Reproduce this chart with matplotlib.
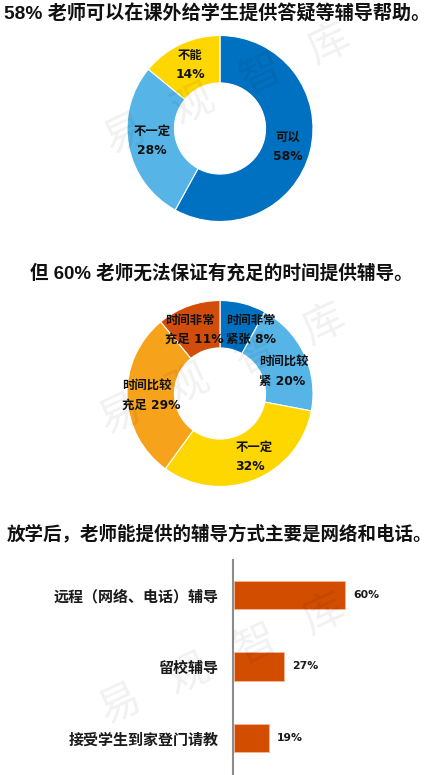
import matplotlib
matplotlib.use("Agg")
import matplotlib.pyplot as plt

plt.rcParams['font.family'] = ['Noto Sans CJK SC', 'DejaVu Sans']

# ---- data ----
title1 = "58% 老师可以在课外给学生提供答疑等辅导帮助。"
pie1_labels = ["可以\n58%", "不一定\n28%", "不能\n14%"]
pie1_values = [58, 28, 14]
pie1_colors = ["#0070C0", "#56B4E6", "#FFD700"]

title2 = "但 60% 老师无法保证有充足的时间提供辅导。"
pie2_labels = ["时间非常\n紧张 8%", "时间比较\n紧 20%", "不一定\n32%", "时间比较\n充足 29%", "时间非常\n充足 11%"]
pie2_values = [8, 20, 32, 29, 11]
pie2_colors = ["#0070C0", "#56B4E6", "#FFD700", "#F7A21B", "#D24D0C"]

title3 = "放学后，老师能提供的辅导方式主要是网络和电话。"
bar_categories = ["远程（网络、电话）辅导", "留校辅导", "接受学生到家登门请教"]
bar_values = [60, 27, 19]
bar_color = "#D24D00"

W, H = 436, 775
fig = plt.figure(figsize=(W / 100, H / 100), dpi=100)
fig.patch.set_facecolor("white")

TITLE_FAM = ['Liberation Sans', 'Noto Sans CJK SC']
LABEL_FAM = ['DejaVu Sans', 'Noto Sans CJK SC']


def px_axes(cx, cy, r):
    return fig.add_axes([(cx - r) / W, (H - cy - r) / H, 2 * r / W, 2 * r / H])


# ---- donut 1 ----
ax1 = px_axes(220, 128.5, 93)
ax1.pie(pie1_values, colors=pie1_colors, startangle=90, counterclock=False,
        radius=1, wedgeprops=dict(width=0.51, edgecolor="white", linewidth=0.8))
ax1.set_xlim(-1, 1); ax1.set_ylim(-1, 1); ax1.set_aspect("equal"); ax1.axis("off")

# ---- donut 2 ----
ax2 = px_axes(220, 393.5, 93)
ax2.pie(pie2_values, colors=pie2_colors, startangle=90, counterclock=False,
        radius=1, wedgeprops=dict(width=0.51, edgecolor="white", linewidth=0.8))
ax2.set_xlim(-1, 1); ax2.set_ylim(-1, 1); ax2.set_aspect("equal"); ax2.axis("off")

# ---- bar chart ----
axb = fig.add_axes([233 / W, 0, 185 / W, 215 / H])
ypos = list(range(len(bar_categories)))
axb.barh(ypos, bar_values, height=0.4, color=bar_color, edgecolor="#F4B89A", linewidth=0.6, left=0.5)
axb.set_xlim(0, 100)
axb.set_ylim(2.52, -0.49)
for s in ["top", "right", "bottom"]:
    axb.spines[s].set_visible(False)
axb.spines["left"].set_color("#8C8C8C")
axb.spines["left"].set_linewidth(1.5)
axb.set_xticks([])
axb.set_yticks(ypos)
axb.set_yticklabels(bar_categories, fontsize=10.8, fontweight="bold", color="#1a1a1a")
axb.tick_params(axis="y", length=0, pad=10.5)
for y, v in zip(ypos, bar_values):
    axb.text(v + 0.5 + 4.3, y, f"{v}%", va="center", ha="left", fontsize=7.8,
             fontweight="bold", family="DejaVu Sans", color="#1a1a1a")

# ---- overlay for texts ----
ov = fig.add_axes([0, 0, 1, 1], zorder=10)
ov.set_xlim(0, W); ov.set_ylim(H, 0); ov.axis("off")
ov.patch.set_alpha(0)

tk = dict(fontweight="bold", color="#111111", family=TITLE_FAM)
ov.text(217, 13, title1, ha="center", va="center", fontsize=13.8, **tk)
ov.text(221, 273, title2, ha="center", va="center", fontsize=13.4, **tk)
ov.text(219, 534, title3, ha="center", va="center", fontsize=13.3, **tk)

lab = dict(fontweight="bold", color="#111111", fontsize=8.9, linespacing=1.6, family=LABEL_FAM)
pie1_pos = [(288, 147), (152, 141), (190, 65)]
for t, (x, y) in zip(pie1_labels, pie1_pos):
    ov.text(x, y, t, ha="center", va="center", multialignment="center", **lab)

pie2_pos = [(226, 330, "left"), (284, 372, "center"), (254, 457, "center"),
            (151, 396, "center"), (194, 330, "center")]
for t, (x, y, ha) in zip(pie2_labels, pie2_pos):
    ov.text(x, y, t, ha=ha, va="center", multialignment="left", **lab)

# watermark
wm = dict(fontsize=30, color="#000000", alpha=0.06, rotation=25, ha="center", va="center")
for (x0, y0) in [(125, 135), (120, 415), (120, 705)]:
    for i, ch in enumerate("易观智库"):
        ov.text(x0 + i * 68, y0 - i * 30, ch, **wm)

fig.savefig("out.png", dpi=100, facecolor="white")
